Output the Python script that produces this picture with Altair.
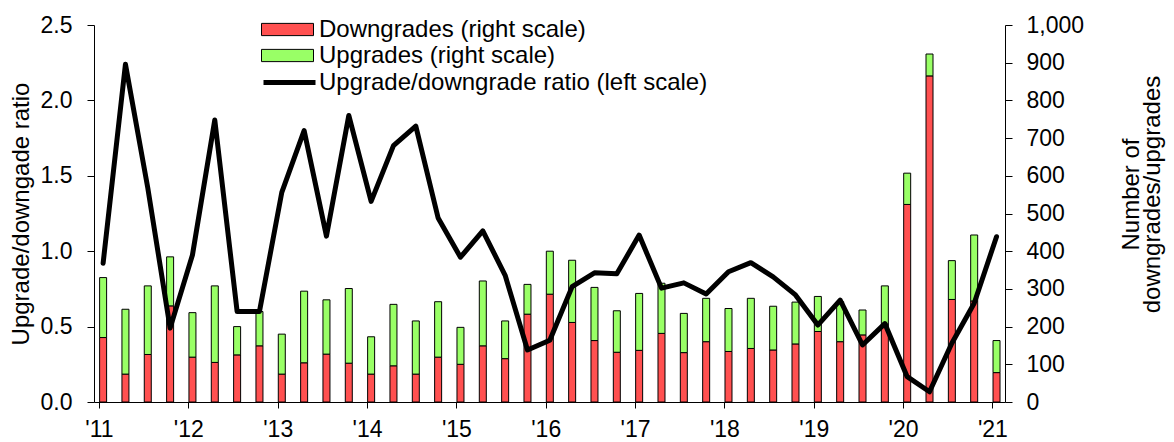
import altair as alt
import pandas as pd

quarters = [
    "2011Q1", "2011Q2", "2011Q3", "2011Q4",
    "2012Q1", "2012Q2", "2012Q3", "2012Q4",
    "2013Q1", "2013Q2", "2013Q3", "2013Q4",
    "2014Q1", "2014Q2", "2014Q3", "2014Q4",
    "2015Q1", "2015Q2", "2015Q3", "2015Q4",
    "2016Q1", "2016Q2", "2016Q3", "2016Q4",
    "2017Q1", "2017Q2", "2017Q3", "2017Q4",
    "2018Q1", "2018Q2", "2018Q3", "2018Q4",
    "2019Q1", "2019Q2", "2019Q3", "2019Q4",
    "2020Q1", "2020Q2", "2020Q3", "2020Q4",
    "2021Q1",
]

downgrades = [171, 74, 126, 255, 119, 105, 125, 149, 74, 104, 127, 103,
              74, 96, 74, 119, 100, 149, 115, 233, 286, 211, 163, 132,
              137, 182, 131, 160, 134, 142, 138, 154, 187, 160, 178, 207,
              524, 865, 272, 268, 78]

upgrades = [159, 172, 182, 130, 118, 203, 75, 91, 106, 190, 144, 198,
            99, 163, 141, 147, 98, 172, 100, 79, 114, 165, 141, 110,
            151, 133, 104, 115, 114, 133, 116, 111, 93, 106, 66, 101,
            83, 58, 103, 175, 85]

ratio = [0.92, 2.24, 1.42, 0.49, 0.975, 1.87, 0.60, 0.60, 1.39, 1.80, 1.10,
         1.90, 1.33, 1.70, 1.83, 1.22, 0.96, 1.135, 0.84, 0.345, 0.41, 0.765,
         0.857, 0.85, 1.107, 0.755, 0.79, 0.716, 0.864, 0.924, 0.83, 0.71,
         0.51, 0.676, 0.378, 0.52, 0.168, 0.068, 0.39, 0.655, 1.096]

series_names = ["Downgrades (right scale)", "Upgrades (right scale)"]
line_name = "Upgrade/downgrade ratio (left scale)"
year_ticks = list(range(2011, 2022))


def qpos(q):
    return int(q[:4]) + (int(q[-1]) - 1) * 0.25 + 0.046


rows = []
for q, d, u in zip(quarters, downgrades, upgrades):
    rows.append({"x": qpos(q), "type": series_names[0], "value": d, "ord": 0})
    rows.append({"x": qpos(q), "type": series_names[1], "value": u, "ord": 1})
bar_df = pd.DataFrame(rows)
line_df = pd.DataFrame({"x": [qpos(q) for q in quarters], "ratio": ratio,
                        "series": line_name})

FONT = "Liberation Sans"

x_enc = alt.X(
    "x:Q",
    scale=alt.Scale(domain=[2011, 2021.085], nice=False, zero=False),
    axis=alt.Axis(values=year_ticks, labelExpr="\"'\" + substring(toString(datum.value), 2, 4)",
                  title=None, grid=False, tickSize=6, labelPadding=10,
                  labelFontSize=23, labelColor="black", domainColor="black",
                  tickColor="black", labelFont=FONT),
)

bars = alt.Chart(bar_df).mark_bar(size=7, stroke="black", strokeWidth=1).encode(
    x=x_enc,
    y=alt.Y("value:Q", stack="zero",
            scale=alt.Scale(domain=[0, 1000], nice=False),
            axis=alt.Axis(orient="right", values=list(range(0, 1001, 100)), format=",.0f",
                          title=["Number of", "downgrades/upgrades"],
                          titleAngle=270, titleY=169, titleAlign="center",
                          titleBaseline="top", titlePadding=15, titleLineHeight=21,
                          titleFontSize=24, titleFontWeight="normal", titleColor="black",
                          titleFont=FONT, grid=False, tickSize=7, labelPadding=14,
                          labelFontSize=23, labelColor="black", domainColor="black",
                          tickColor="black", labelFont=FONT)),
    fill=alt.Fill("type:N", scale=alt.Scale(domain=series_names, range=["#FF5050", "#99FF66"]),
                  legend=alt.Legend(title=None, orient="none", legendX=180, legendY=-9,
                                    symbolType="M-2,-0.47H2V0.47H-2Z", symbolSize=676,
                                    symbolStrokeColor="black", symbolStrokeWidth=1,
                                    labelFontSize=24, labelColor="black", labelFont=FONT,
                                    labelLimit=0, labelOffset=18, rowPadding=0, padding=0)),
    order=alt.Order("ord:Q"),
)

line = alt.Chart(line_df).mark_line(strokeWidth=5, strokeJoin="round", strokeCap="round").encode(
    x=x_enc,
    y=alt.Y("ratio:Q", scale=alt.Scale(domain=[0, 2.5], nice=False),
            axis=alt.Axis(orient="left", values=[0, 0.5, 1.0, 1.5, 2.0, 2.5], format=".1f",
                          title="Upgrade/downgade ratio", titleAngle=270, titleX=-66,
                          titleY=188.5, titleAlign="center", titleBaseline="alphabetic",
                          titleFontSize=24, titleFontWeight="normal", titleColor="black",
                          titleFont=FONT, grid=False, tickSize=7, labelPadding=15,
                          labelFontSize=23, labelColor="black", domainColor="black",
                          tickColor="black", labelFont=FONT)),
    stroke=alt.Stroke("series:N", scale=alt.Scale(domain=[line_name], range=["black"]),
                      legend=alt.Legend(title=None, orient="none", legendX=180, legendY=42,
                                        symbolType="M-2,0H2", symbolSize=676,
                                        symbolStrokeWidth=5, labelFontSize=24,
                                        labelColor="black", labelFont=FONT,
                                        labelLimit=0, labelOffset=14, padding=0)),
)

chart = (
    alt.layer(bars, line)
    .resolve_scale(y="independent", fill="independent", stroke="independent")
    .properties(width=911, height=377,
                autosize=alt.AutoSizeParams(type="none"),
                padding={"left": 86, "top": 17, "right": 161, "bottom": 44},
                background="white")
    .configure(font=FONT)
    .configure_view(stroke=None)
)

chart.save("out.html", embed_options={"renderer": "svg", "actions": False})
